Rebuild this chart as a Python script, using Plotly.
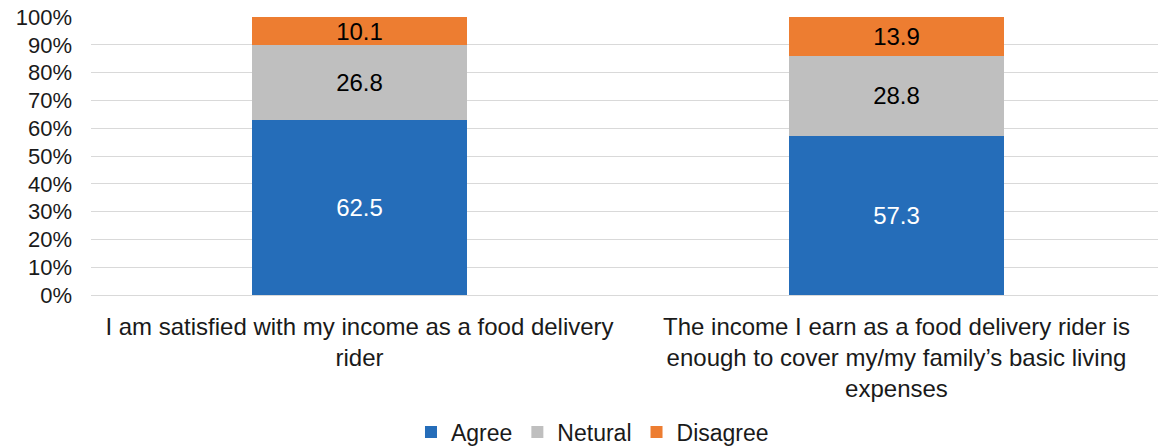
import plotly.graph_objects as go

categories = [
    "I am satisfied with my income as a food delivery<br>rider",
    "The income I earn as a food delivery rider is<br>enough to cover my/my family’s basic living<br>expenses",
]
series_names = ["Agree", "Netural", "Disagree"]
agree = [62.5, 57.3]
neutral = [26.8, 28.8]
disagree = [10.1, 13.9]
y_ticks = [0, 10, 20, 30, 40, 50, 60, 70, 80, 90, 100]

colors = ["#256DB9", "#BFBFBF", "#ED7D31"]
text_colors = ["#FFFFFF", "#000000", "#000000"]
FONT = "Liberation Sans, Arial, sans-serif"

fig = go.Figure()
for name, vals, c, tc in zip(series_names, [agree, neutral, disagree], colors, text_colors):
    fig.add_trace(go.Bar(
        name=name,
        x=categories,
        y=vals,
        text=[f"{v:.1f}" for v in vals],
        texttemplate="%{text}",
        textposition="inside",
        insidetextanchor="middle",
        constraintext="none",
        textfont=dict(color=tc, size=24, family=FONT),
        marker=dict(color=c, line=dict(width=0)),
        width=0.4,
    ))

fig.update_layout(
    barmode="stack",
    barnorm="percent",
    width=1158,
    height=446,
    margin=dict(l=91, r=0, t=17, b=151, autoexpand=False),
    plot_bgcolor="white",
    paper_bgcolor="white",
    font=dict(family=FONT, size=22, color="#1a1a1a"),
    showlegend=True,
    legend=dict(
        orientation="h",
        x=0.470,
        xanchor="center",
        y=-0.493,
        yanchor="middle",
        font=dict(size=23, color="#1a1a1a"),
        traceorder="normal",
    ),
)
fig.update_xaxes(
    range=[-0.5, 1.487],
    showgrid=False,
    showline=False,
    ticks="",
    automargin=False,
    ticklabelstandoff=15,
    tickfont=dict(size=24, color="#1a1a1a"),
)
fig.update_yaxes(
    range=[0, 100],
    tickvals=y_ticks,
    ticktext=[f"{v}%" for v in y_ticks],
    showgrid=True,
    gridcolor="#D9D9D9",
    gridwidth=1,
    zeroline=True,
    zerolinecolor="#D9D9D9",
    zerolinewidth=1,
    showline=False,
    ticks="",
    automargin=False,
    ticklabeloverflow="allow",
    ticklabelstandoff=18,
    tickfont=dict(size=22, color="#1a1a1a"),
)

# Remove the default 8px page margin so the figure fills the window exactly.
fig.write_html(
    "out.html",
    config={"displayModeBar": False},
    post_script="document.body.style.margin='0';",
)
